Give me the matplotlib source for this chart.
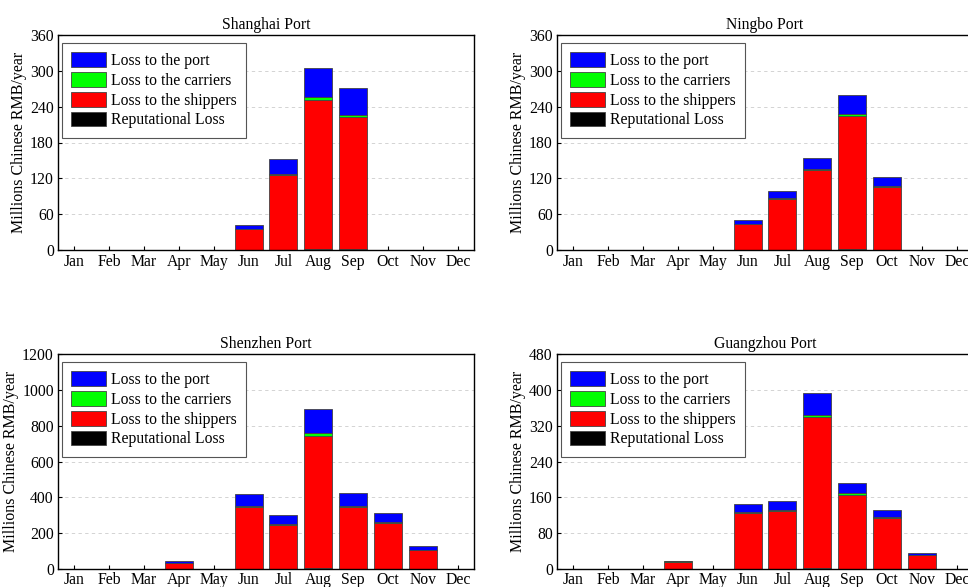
import matplotlib
matplotlib.use("Agg")
import matplotlib.pyplot as plt
import numpy as np

plt.rcParams['font.family'] = ['Liberation Serif', 'DejaVu Serif']

months = ["Jan", "Feb", "Mar", "Apr", "May", "Jun", "Jul", "Aug", "Sep", "Oct", "Nov", "Dec"]
series_names = ["Loss to the port", "Loss to the carriers", "Loss to the shippers", "Reputational Loss"]

# Shanghai
sh_rep  = [0, 0, 0, 0, 0, 0.4, 0.8, 1.0, 1.0, 0, 0, 0]
sh_ship = [0, 0, 0, 0, 0, 34, 124, 250, 221, 0, 0, 0]
sh_carr = [0, 0, 0, 0, 0, 1, 2, 5, 4, 0, 0, 0]
sh_port = [0, 0, 0, 0, 0, 7, 26, 49, 45, 0, 0, 0]

# Ningbo
nb_rep  = [0, 0, 0, 0, 0, 0.4, 0.6, 0.8, 1.0, 0.6, 0, 0]
nb_ship = [0, 0, 0, 0, 0, 43, 85, 133, 224, 105, 0, 0]
nb_carr = [0, 0, 0, 0, 0, 0.5, 1, 1, 3, 1, 0, 0]
nb_port = [0, 0, 0, 0, 0, 7, 13, 20, 31, 15, 0, 0]

# Shenzhen
sz_rep  = [0, 0, 0, 1, 0, 2, 2, 3, 2, 2, 1, 0]
sz_ship = [0, 0, 0, 34, 0, 343, 246, 742, 343, 255, 103, 0]
sz_carr = [0, 0, 0, 1, 0, 5, 3, 12, 6, 3, 2, 0]
sz_port = [0, 0, 0, 8, 0, 70, 48, 138, 73, 52, 20, 0]

# Guangzhou
gz_rep  = [0, 0, 0, 0.3, 0, 1, 1, 1.5, 1, 1, 0.5, 0]
gz_ship = [0, 0, 0, 16, 0, 124, 128, 337, 165, 113, 30, 0]
gz_carr = [0, 0, 0, 0.5, 0, 2, 2, 6, 3, 2, 1, 0]
gz_port = [0, 0, 0, 2, 0, 19, 20, 48, 24, 16, 5, 0]

panels = [
    ("Shanghai Port", sh_rep, sh_ship, sh_carr, sh_port, 360, 60),
    ("Ningbo Port", nb_rep, nb_ship, nb_carr, nb_port, 360, 60),
    ("Shenzhen Port", sz_rep, sz_ship, sz_carr, sz_port, 1200, 200),
    ("Guangzhou Port", gz_rep, gz_ship, gz_carr, gz_port, 480, 80),
]

W, H = 968, 587
fig = plt.figure(figsize=(W / 100, H / 100), dpi=100)

positions = [
    [58 / W, 1 - 250 / H, 416 / W, 215 / H],
    [557 / W, 1 - 250 / H, 416 / W, 215 / H],
    [58 / W, 1 - 569 / H, 416 / W, 215 / H],
    [557 / W, 1 - 569 / H, 416 / W, 215 / H],
]

x = np.arange(1, 13)
for i, (pos, (title, rep, ship, carr, port, ymax, ystep)) in enumerate(zip(positions, panels)):
    ax = fig.add_axes(pos)
    rep = np.array(rep, float)
    ship = np.array(ship, float)
    carr = np.array(carr, float)
    port = np.array(port, float)
    kw = dict(width=0.8, edgecolor="#444444", linewidth=0.6)
    b_rep = ax.bar(x, rep, color="#000000", **kw)
    b_ship = ax.bar(x, ship, bottom=rep, color="#ff0000", **kw)
    b_carr = ax.bar(x, carr, bottom=rep + ship, color="#00ff00", **kw)
    b_port = ax.bar(x, port, bottom=rep + ship + carr, color="#0000ff", **kw)
    ax.set_xlim(0.54, 12.46)
    ax.set_ylim(0, ymax)
    ax.set_yticks(np.arange(0, ymax + 1, ystep))
    ax.set_xticks(x)
    ax.set_xticklabels(months)
    ax.tick_params(direction="in", length=3, labelsize=11.3, width=0.8)
    ax.tick_params(axis="x", pad=2 if i >= 2 else 3)
    ax.tick_params(axis="y", pad=3)
    for yv in np.arange(ystep, ymax, ystep):
        ax.axhline(yv, color="#cccccc", linestyle=(0, (4, 4)), linewidth=0.6, zorder=0)
    ax.set_axisbelow(True)
    for s in ax.spines.values():
        s.set_linewidth(1.0)
    ax.set_title(title, fontsize=11.3, pad=4)
    ax.set_ylabel("Millions Chinese RMB/year", fontsize=11.5, labelpad=2)
    leg = ax.legend([b_port, b_carr, b_ship, b_rep], series_names, loc="upper left",
                    bbox_to_anchor=(4 / 416, 1 - 8 / 215), borderaxespad=0,
                    fontsize=11.3, fancybox=False, framealpha=1, edgecolor="#555555",
                    handlelength=2.2, handleheight=1.05, labelspacing=0.2,
                    borderpad=0.6, handletextpad=0.3)
    leg.get_frame().set_linewidth(0.8)

fig.savefig("out.png", dpi=100)
